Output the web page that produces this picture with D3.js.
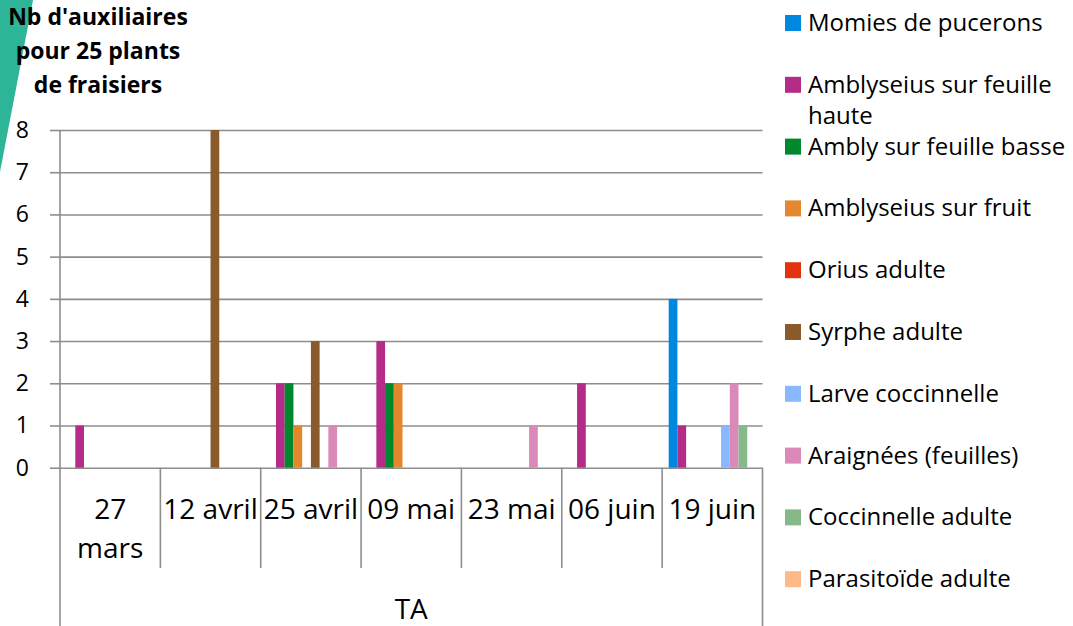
<!doctype html>
<html lang="fr">
<head>
  <meta charset="utf-8">
  <script src="https://cdn.jsdelivr.net/npm/d3@7"></script>
  <title>Nb d'auxiliaires</title>
  <style>
    body { margin: 0; background: #fff; }
    text { font-family: "Open Sans", sans-serif; fill: #000; }
  </style>
</head>
<body>
  <svg id="chart" width="1073" height="626"></svg>
  <script>
    // categories (dates) and series
    const dates = ["27 mars", "12 avril", "25 avril", "09 mai", "23 mai", "06 juin", "19 juin"];
    const seriesNames = ["Momies de pucerons", "Amblyseius sur feuille haute", "Ambly sur feuille basse",
      "Amblyseius sur fruit", "Orius adulte", "Syrphe adulte", "Larve coccinnelle",
      "Araignées (feuilles)", "Coccinnelle adulte", "Parasitoïde adulte"];
    const seriesColors = ["#0088e0", "#b52c88", "#00882d", "#e3882f", "#e2320e", "#8a5a2c",
      "#88b8ff", "#da89b8", "#86b88a", "#ffb888"];

    const momies      = [0, 0, 0, 0, 0, 0, 4];
    const amblyHaute  = [1, 0, 2, 3, 0, 2, 1];
    const amblyBasse  = [0, 0, 2, 2, 0, 0, 0];
    const amblyFruit  = [0, 0, 1, 2, 0, 0, 0];
    const orius       = [0, 0, 0, 0, 0, 0, 0];
    const syrphe      = [0, 8, 3, 0, 0, 0, 0];
    const larveCocc   = [0, 0, 0, 0, 0, 0, 1];
    const araignees   = [0, 0, 1, 0, 1, 0, 2];
    const coccAdulte  = [0, 0, 0, 0, 0, 0, 1];
    const parasitoide = [0, 0, 0, 0, 0, 0, 0];
    const seriesValues = [momies, amblyHaute, amblyBasse, amblyFruit, orius, syrphe,
      larveCocc, araignees, coccAdulte, parasitoide];

    const yTicks = [0, 1, 2, 3, 4, 5, 6, 7, 8];
    const titleLines = ["Nb d'auxiliaires", "pour 25 plants", "de fraisiers"];
    const groupLabel = "TA";

    const svg = d3.select("#chart");
    const plotLeft = 60, plotRight = 762.5, plotTop = 130, plotBottom = 467.7;
    const gridColor = "#8d8d8d";

    // teal decoration top-left
    svg.append("path")
      .attr("d", "M0,0 L33,0 L0,172 Z")
      .attr("fill", "#2cb596");

    const x0 = d3.scaleBand().domain(dates).range([plotLeft, plotRight]).padding(0);
    const x1 = d3.scaleBand().domain(d3.range(seriesNames.length))
      .range([0, x0.bandwidth()]).paddingInner(0).paddingOuter(0.75);
    const y = d3.scaleLinear().domain([0, 8]).range([plotBottom, plotTop]);

    // gridlines + y ticks
    svg.append("g")
      .attr("transform", `translate(${plotLeft},0)`)
      .call(d3.axisLeft(y).tickValues(yTicks).tickSize(-(plotRight - plotLeft)).tickFormat(""))
      .call(g => g.select(".domain").remove())
      .call(g => g.selectAll("line").attr("stroke", gridColor).attr("stroke-width", 1.6));

    svg.append("g")
      .attr("transform", `translate(${plotLeft},0)`)
      .call(d3.axisLeft(y).tickValues(yTicks).tickSize(10).tickPadding(21))
      .call(g => g.select(".domain").remove())
      .call(g => g.selectAll("line").attr("stroke", gridColor).attr("stroke-width", 1.6))
      .call(g => g.selectAll("text").attr("font-size", 23).attr("font-family", "Open Sans").attr("fill", "#000"));

    // bars
    const groups = svg.append("g").selectAll("g")
      .data(dates)
      .join("g")
      .attr("transform", d => `translate(${x0(d)},0)`);

    groups.selectAll("rect")
      .data((d, i) => seriesValues.map((vals, s) => ({ s: s, v: vals[i] })).filter(e => e.v > 0))
      .join("rect")
      .attr("x", e => x1(e.s))
      .attr("width", x1.bandwidth())
      .attr("y", e => y(e.v))
      .attr("height", e => y(0) - y(e.v))
      .attr("fill", e => seriesColors[e.s]);

    // axis frame lines
    const frame = svg.append("g").attr("stroke", gridColor).attr("stroke-width", 1.6);
    frame.append("line").attr("x1", plotLeft).attr("x2", plotLeft).attr("y1", plotTop).attr("y2", 626);
    frame.append("line").attr("x1", plotRight).attr("x2", plotRight).attr("y1", plotBottom).attr("y2", 626);
    frame.selectAll(".sep")
      .data(dates.slice(1))
      .join("line")
      .attr("x1", d => x0(d)).attr("x2", d => x0(d))
      .attr("y1", plotBottom).attr("y2", 568);

    // text wrapping helper
    function wrap(sel, width, lineHeight) {
      sel.each(function () {
        const t = d3.select(this);
        const words = t.text().split(/\s+/);
        const xx = t.attr("x");
        t.text(null);
        let line = [];
        let tspan = t.append("tspan").attr("x", xx).attr("dy", 0);
        words.forEach(w => {
          line.push(w);
          tspan.text(line.join(" "));
          if (tspan.node().getComputedTextLength() > width && line.length > 1) {
            line.pop();
            tspan.text(line.join(" "));
            line = [w];
            tspan = t.append("tspan").attr("x", xx).attr("dy", lineHeight).text(w);
          }
        });
      });
    }

    // category labels
    svg.append("g").selectAll("text")
      .data(dates)
      .join("text")
      .attr("x", d => x0(d) + x0.bandwidth() / 2)
      .attr("y", 519)
      .attr("text-anchor", "middle")
      .attr("font-size", 28)
      .text(d => d)
      .call(wrap, x0.bandwidth(), 39);

    svg.append("text")
      .attr("x", (plotLeft + plotRight) / 2)
      .attr("y", 619)
      .attr("text-anchor", "middle")
      .attr("font-size", 28)
      .text(groupLabel);

    // title
    svg.append("g").selectAll("text")
      .data(titleLines)
      .join("text")
      .attr("x", 98)
      .attr("y", (d, i) => 25 + i * 34)
      .attr("text-anchor", "middle")
      .attr("font-size", 23)
      .attr("font-weight", "bold")
      .text(d => d);

    // legend
    const legend = svg.append("g").selectAll("g")
      .data(seriesNames)
      .join("g")
      .attr("transform", (d, i) => `translate(785,${23 + i * 61.8})`);
    legend.append("rect")
      .attr("x", 0).attr("y", -8)
      .attr("width", 16).attr("height", 16)
      .attr("fill", (d, i) => seriesColors[i]);
    legend.append("text")
      .attr("x", 23)
      .attr("y", 8)
      .attr("font-size", 24)
      .text(d => d)
      .call(wrap, 1073 - 808, 31);
  </script>
</body>
</html>
